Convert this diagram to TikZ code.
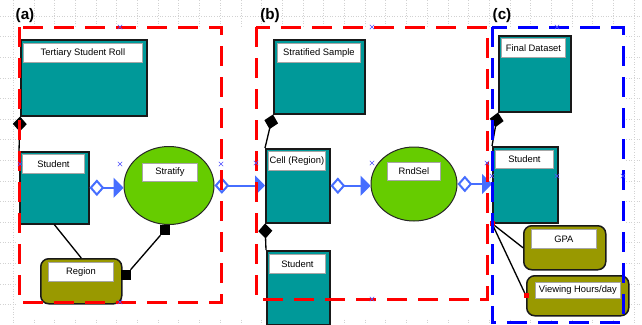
\documentclass[tikz,border=0pt]{standalone}
\usepackage{fontspec}
\setmainfont{Liberation Sans}
\usetikzlibrary{arrows.meta,shapes.geometric,shapes.misc,positioning}
\definecolor{clsteal}{RGB}{0,153,153}
\definecolor{attrolive}{RGB}{153,153,0}
\definecolor{procgreen}{RGB}{102,204,0}
\definecolor{linkblue}{RGB}{70,110,255}
\definecolor{markblue}{RGB}{80,80,255}
\def\pxu{0.03cm}

\begin{document}
\begin{tikzpicture}[x=0.03cm,y=-0.03cm,
		cls/.style={draw=black!90,fill=clsteal,line width=0.045cm,inner sep=0,anchor=north west},
		attr/.style={draw=black!90,fill=attrolive,line width=0.045cm,rounded corners=0.24cm,inner sep=0,anchor=north west},
		proc/.style={ellipse,draw=black!85,fill=procgreen,line width=0.03cm,inner sep=0},
		lbl/.style={draw=gray!70,fill=white,line width=0.025cm,inner sep=0,anchor=north west,font=\fontsize{8}{9}\selectfont},
		assoc/.style={linkblue,line width=0.06cm,{Diamond[fill=white,length=0.44cm,width=0.5cm]}-{Triangle[length=0.3cm,width=0.6cm]}},
		comp/.style={black,line width=0.04cm,-{Diamond[length=0.45cm,width=0.42cm]}},
		link/.style={black,line width=0.04cm},
		sq/.style={fill=black,inner sep=0,minimum size=10*\pxu},
		redsq/.style={fill=red,inner sep=0,minimum size=5*\pxu},
		frame/.style={line width=0.09cm,dash pattern=on 0.6cm off 0.33cm},
		xmark/.style={cross out,draw=markblue,line width=0.4pt,inner sep=0,minimum size=4*\pxu},
		gridline/.style={gray!35,line width=0.3pt,dash pattern=on 0.6pt off 1.6pt},
		panel/.style={font=\fontsize{13}{14}\selectfont\bfseries}]
	\useasboundingbox (0,0) rectangle (642,324);
	% background grid
	\foreach \gx in {13,33.7,...,642}
		\draw[gridline] (\gx,0) -- (\gx,324);
	\foreach \gy in {16,36.6,...,324}
		\draw[gridline] (0,\gy) -- (642,\gy);
	\fill[white] (18,27) rectangle (626,319);

	\node[panel] (pa) at (25,16) {(a)};
	\node[panel] (pb) at (270,16) {(b)};
	\node[panel] (pc) at (502,16) {(c)};

	% (a)
	\node[cls,minimum width=126*\pxu,minimum height=76*\pxu] (roll) at (20,39) {};
	\node[lbl,minimum width=119*\pxu,minimum height=19*\pxu] (rolllbl) at (23,43) {Tertiary Student Roll};
	\node[cls,minimum width=69*\pxu,minimum height=72*\pxu] (studa) at (19,151) {};
	\node[lbl,minimum width=62*\pxu,minimum height=19*\pxu] (studalbl) at (22,154) {Student};
	\node[proc,minimum width=90*\pxu,minimum height=78*\pxu] (strat) at (169,185.5) {};
	\node[lbl,minimum width=55*\pxu,minimum height=18*\pxu] (stratlbl) at (142,163) {Stratify};
	\node[attr,minimum width=81*\pxu,minimum height=45*\pxu] (region) at (40,258) {};
	\node[lbl,minimum width=65*\pxu,minimum height=19*\pxu] (regionlbl) at (48,262) {Region};
	\node[sq] (sqa) at (165,230) {};
	\node[sq] (sqb) at (126,275) {};

	% (b)
	\node[cls,minimum width=91*\pxu,minimum height=74*\pxu] (sample) at (273,39) {};
	\node[lbl,minimum width=83*\pxu,minimum height=19*\pxu] (samplelbl) at (277,43) {Stratified Sample};
	\node[cls,minimum width=64*\pxu,minimum height=74*\pxu] (cell) at (265,148) {};
	\node[lbl,minimum width=57*\pxu,minimum height=19*\pxu] (celllbl) at (268,151) {Cell (Region)};
	\node[cls,minimum width=63*\pxu,minimum height=74*\pxu] (studb) at (266,250) {};
	\node[lbl,minimum width=56*\pxu,minimum height=19*\pxu] (studblbl) at (269,254) {Student};
	\node[proc,minimum width=86*\pxu,minimum height=74*\pxu] (rnd) at (414,184) {};
	\node[lbl,minimum width=53*\pxu,minimum height=18*\pxu] (rndlbl) at (387,162) {RndSel};

	% (c)
	\node[cls,minimum width=72*\pxu,minimum height=76*\pxu] (final) at (498,35) {};
	\node[lbl,minimum width=64*\pxu,minimum height=19*\pxu] (finallbl) at (501,38) {Final Dataset};
	\node[cls,minimum width=65*\pxu,minimum height=76*\pxu] (studc) at (492,146) {};
	\node[lbl,minimum width=58*\pxu,minimum height=18*\pxu] (studclbl) at (495,150) {Student};
	\node[attr,minimum width=82*\pxu,minimum height=44*\pxu] (gpa) at (523,225) {};
	\node[lbl,minimum width=65*\pxu,minimum height=19*\pxu] (gpalbl) at (531,229) {GPA};
	\node[attr,minimum width=102*\pxu,minimum height=40*\pxu] (view) at (526,275) {};
	\node[lbl,minimum width=85*\pxu,minimum height=16*\pxu] (viewlbl) at (535,282) {Viewing Hours/day};
	\node[redsq] (rsa) at (studc.south west) {};
	\node[redsq] (rsb) at (view.west) {};

	% connectors
	\draw[comp] (studa.north west) -- (roll.south west);
	\draw[link] (studa.south) -- (region.north);
	\draw[link] (sqa) -- (sqb);
	\draw[assoc] (studa.east) -- (studa.east -| strat.west);
	\draw[assoc] (strat.east) -- (strat.east -| cell.west);
	\draw[comp] (cell.north west) -- (sample.south west);
	\draw[comp] (studb.north west) -- (cell.south west);
	\draw[assoc] (cell.east) -- (cell.east -| rnd.west);
	\draw[assoc] (rnd.east) -- (rnd.east -| studc.west);
	\draw[comp] (studc.north west) -- (final.south west);
	\draw[link] (rsa) -- (gpa.west);
	\draw[link] (rsa) -- (rsb);

	% frames
	\draw[frame,red] (19,27) rectangle (221,302);
	\draw[frame,red] (256,27) rectangle (487,299);
	\draw[frame,blue] (492,27) rectangle (623,322);

	\foreach \p in {(120,27),(20,164),(120,164),(221,164),(120,302),
			(372,27),(256,163),(372,163),(487,163),(372,299),
			(557,27),(492,176),(557,176),(623,176)}
		\node[xmark] at \p {};
\end{tikzpicture}
\end{document}
